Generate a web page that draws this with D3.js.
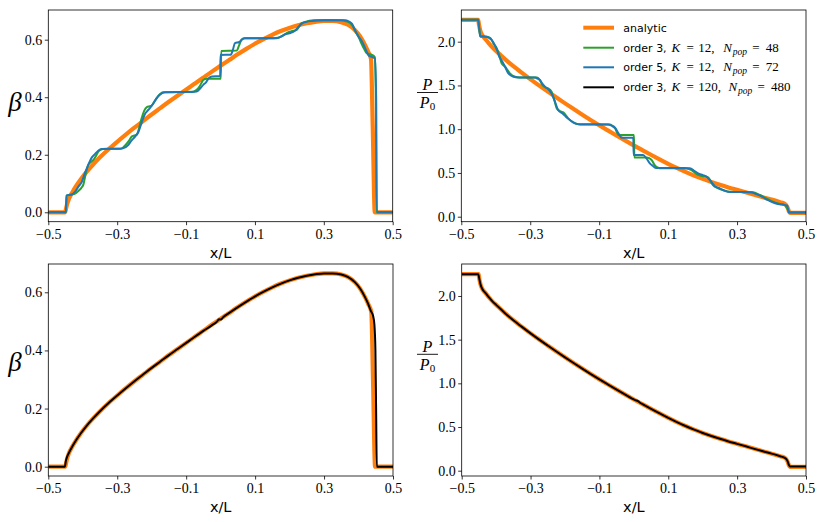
<!DOCTYPE html>
<html><head><meta charset="utf-8">
<script src="https://cdn.jsdelivr.net/npm/d3@7"></script>
<style>body{margin:0;background:#fff}svg{display:block}</style>
</head><body><svg id="c" width="822" height="522"></svg>
<script>
// ---------- data ----------
const xTicks = [-0.5, -0.3, -0.1, 0.1, 0.3, 0.5];
const betaTicks = [0, 0.2, 0.4, 0.6];
const pTicks = [0, 0.5, 1.0, 1.5, 2.0];

const analyticBeta = [[-0.5,0],[-0.451,0],[-0.448,0.015],[-0.445,0.03],[-0.44,0.047],[-0.43,0.07],[-0.42,0.09],[-0.405,0.116],[-0.39,0.139],[-0.37,0.166],[-0.35,0.191],[-0.325,0.219],[-0.3,0.245],[-0.275,0.27],[-0.25,0.294],[-0.225,0.317],[-0.2,0.34],[-0.175,0.362],[-0.15,0.384],[-0.125,0.405],[-0.1,0.426],[-0.075,0.447],[-0.05,0.468],[-0.025,0.489],[0,0.509],[0.025,0.529],[0.05,0.549],[0.075,0.568],[0.1,0.586],[0.125,0.602],[0.15,0.617],[0.175,0.63],[0.2,0.641],[0.225,0.65],[0.25,0.657],[0.275,0.662],[0.3,0.665],[0.325,0.665],[0.35,0.661],[0.37,0.652],[0.39,0.634],[0.405,0.612],[0.418,0.585],[0.428,0.56],[0.437,0.533],[0.442,0.3],[0.448,0],[0.5,0]];

const analyticP = [[-0.5,2.25],[-0.451,2.25],[-0.449,2.2],[-0.447,2.16],[-0.444,2.115],[-0.44,2.08],[-0.43,2.03],[-0.42,1.98],[-0.41,1.935],[-0.4,1.898],[-0.375,1.806],[-0.35,1.723],[-0.325,1.646],[-0.3,1.572],[-0.275,1.501],[-0.25,1.432],[-0.225,1.364],[-0.2,1.298],[-0.175,1.233],[-0.15,1.169],[-0.125,1.106],[-0.1,1.045],[-0.075,0.986],[-0.05,0.928],[-0.025,0.871],[0,0.815],[0.025,0.761],[0.05,0.708],[0.075,0.656],[0.1,0.605],[0.125,0.557],[0.15,0.512],[0.175,0.47],[0.2,0.432],[0.225,0.397],[0.25,0.365],[0.275,0.335],[0.3,0.307],[0.325,0.279],[0.35,0.25],[0.375,0.222],[0.4,0.195],[0.425,0.165],[0.437,0.15],[0.443,0.13],[0.447,0.1],[0.45,0.065],[0.453,0.043],[0.5,0.043]];

const order3K12Beta = [[-0.5,0],[-0.449,0],[-0.447,0.058],[-0.44,0.06],[-0.425,0.063],[-0.412,0.075],[-0.404,0.085],[-0.398,0.097],[-0.392,0.13],[-0.384,0.165],[-0.376,0.175],[-0.369,0.182],[-0.362,0.195],[-0.355,0.211],[-0.345,0.219],[-0.34,0.22],[-0.3,0.221],[-0.287,0.222],[-0.275,0.235],[-0.265,0.25],[-0.258,0.263],[-0.25,0.267],[-0.243,0.27],[-0.236,0.295],[-0.229,0.327],[-0.222,0.352],[-0.214,0.366],[-0.205,0.369],[-0.2,0.371],[-0.192,0.385],[-0.185,0.397],[-0.176,0.41],[-0.166,0.417],[-0.12,0.418],[-0.079,0.419],[-0.07,0.425],[-0.061,0.437],[-0.055,0.45],[-0.05,0.46],[-0.04,0.464],[0.001,0.464],[0.002,0.561],[0.047,0.562],[0.054,0.58],[0.061,0.6],[0.068,0.605],[0.158,0.605],[0.168,0.607],[0.178,0.612],[0.192,0.623],[0.205,0.629],[0.221,0.634],[0.228,0.645],[0.234,0.656],[0.245,0.662],[0.255,0.665],[0.27,0.668],[0.352,0.668],[0.365,0.664],[0.377,0.657],[0.385,0.645],[0.391,0.63],[0.401,0.61],[0.408,0.59],[0.416,0.57],[0.425,0.552],[0.44,0.547],[0.448,0.54],[0.451,0.4],[0.453,0],[0.5,0]];

const order5K12Beta = [[-0.5,0],[-0.449,0],[-0.447,0.058],[-0.442,0.06],[-0.432,0.062],[-0.422,0.072],[-0.412,0.09],[-0.403,0.105],[-0.394,0.135],[-0.384,0.165],[-0.374,0.19],[-0.364,0.203],[-0.355,0.214],[-0.345,0.22],[-0.32,0.221],[-0.295,0.221],[-0.282,0.223],[-0.268,0.234],[-0.258,0.25],[-0.248,0.263],[-0.238,0.28],[-0.228,0.315],[-0.22,0.34],[-0.214,0.35],[-0.205,0.362],[-0.195,0.378],[-0.185,0.398],[-0.175,0.41],[-0.161,0.417],[-0.13,0.418],[-0.1,0.418],[-0.069,0.42],[-0.058,0.432],[-0.05,0.443],[-0.042,0.452],[-0.035,0.465],[-0.025,0.472],[-0.001,0.473],[0.0,0.547],[0.03,0.548],[0.036,0.565],[0.042,0.588],[0.055,0.592],[0.062,0.6],[0.071,0.605],[0.1,0.605],[0.14,0.605],[0.168,0.607],[0.178,0.612],[0.187,0.618],[0.2,0.622],[0.217,0.632],[0.227,0.645],[0.236,0.656],[0.25,0.662],[0.265,0.665],[0.3,0.668],[0.362,0.668],[0.372,0.664],[0.382,0.655],[0.391,0.632],[0.401,0.61],[0.408,0.6],[0.416,0.582],[0.424,0.56],[0.43,0.545],[0.44,0.54],[0.448,0.535],[0.452,0.4],[0.454,0],[0.5,0]];

const order3K12P = [[-0.5,2.25],[-0.451,2.25],[-0.448,2.15],[-0.445,2.06],[-0.426,2.057],[-0.415,2.04],[-0.407,1.98],[-0.397,1.924],[-0.39,1.85],[-0.383,1.752],[-0.373,1.714],[-0.359,1.638],[-0.344,1.6],[-0.33,1.592],[-0.28,1.59],[-0.272,1.56],[-0.265,1.505],[-0.255,1.475],[-0.248,1.467],[-0.238,1.429],[-0.23,1.33],[-0.223,1.238],[-0.214,1.208],[-0.204,1.192],[-0.19,1.124],[-0.175,1.078],[-0.16,1.057],[-0.069,1.055],[-0.061,1.035],[-0.054,1.01],[-0.048,0.96],[-0.044,0.933],[0.001,0.933],[0.002,0.678],[0.037,0.678],[0.045,0.67],[0.052,0.648],[0.061,0.59],[0.071,0.56],[0.08,0.553],[0.153,0.552],[0.168,0.533],[0.182,0.488],[0.197,0.465],[0.216,0.45],[0.23,0.362],[0.245,0.324],[0.259,0.305],[0.279,0.286],[0.346,0.28],[0.366,0.248],[0.385,0.21],[0.404,0.171],[0.424,0.145],[0.438,0.133],[0.448,0.076],[0.453,0.048],[0.5,0.048]];

const order5K12P = [[-0.5,2.25],[-0.451,2.25],[-0.448,2.15],[-0.445,2.06],[-0.426,2.057],[-0.418,2.04],[-0.412,2.02],[-0.402,1.954],[-0.396,1.9],[-0.39,1.83],[-0.382,1.78],[-0.373,1.714],[-0.364,1.64],[-0.349,1.6],[-0.335,1.592],[-0.286,1.59],[-0.279,1.578],[-0.272,1.562],[-0.265,1.52],[-0.257,1.486],[-0.243,1.436],[-0.236,1.39],[-0.23,1.333],[-0.219,1.219],[-0.207,1.181],[-0.196,1.14],[-0.185,1.105],[-0.17,1.067],[-0.155,1.055],[-0.074,1.054],[-0.064,1.04],[-0.054,1.017],[-0.044,0.952],[-0.035,0.903],[-0.001,0.902],[0.0,0.705],[0.0275,0.704],[0.037,0.667],[0.047,0.61],[0.055,0.583],[0.066,0.556],[0.163,0.555],[0.177,0.522],[0.187,0.495],[0.201,0.476],[0.212,0.455],[0.221,0.419],[0.235,0.35],[0.25,0.324],[0.264,0.297],[0.279,0.282],[0.34,0.28],[0.355,0.26],[0.37,0.236],[0.385,0.198],[0.4,0.171],[0.419,0.145],[0.438,0.133],[0.446,0.125],[0.45,0.048],[0.5,0.048]];

const order3K120Beta = [[-0.5,0],[-0.452,0],[-0.449,0.02],[-0.446,0.032],[-0.44,0.048],[-0.43,0.07],[-0.42,0.09],[-0.405,0.116],[-0.39,0.139],[-0.37,0.166],[-0.35,0.191],[-0.325,0.219],[-0.3,0.245],[-0.275,0.27],[-0.25,0.294],[-0.225,0.317],[-0.2,0.34],[-0.175,0.362],[-0.15,0.384],[-0.125,0.405],[-0.1,0.426],[-0.075,0.447],[-0.05,0.467],[-0.025,0.487],[-0.01,0.5],[-0.005,0.507],[0.0,0.506],[0.008,0.515],[0.025,0.529],[0.05,0.549],[0.075,0.568],[0.1,0.586],[0.125,0.602],[0.15,0.617],[0.175,0.63],[0.2,0.641],[0.225,0.65],[0.25,0.657],[0.275,0.662],[0.3,0.665],[0.325,0.665],[0.35,0.661],[0.37,0.652],[0.39,0.634],[0.405,0.612],[0.418,0.585],[0.428,0.56],[0.436,0.535],[0.442,0.52],[0.446,0.49],[0.449,0.4],[0.451,0.2],[0.453,0],[0.5,0]];

const order3K120P = [[-0.5,2.25],[-0.452,2.25],[-0.449,2.2],[-0.447,2.16],[-0.444,2.115],[-0.44,2.08],[-0.43,2.03],[-0.42,1.98],[-0.41,1.935],[-0.4,1.898],[-0.375,1.806],[-0.35,1.723],[-0.325,1.646],[-0.3,1.572],[-0.275,1.501],[-0.25,1.432],[-0.225,1.364],[-0.2,1.298],[-0.175,1.233],[-0.15,1.169],[-0.125,1.106],[-0.1,1.045],[-0.075,0.986],[-0.05,0.928],[-0.025,0.871],[-0.005,0.826],[0.004,0.808],[0.012,0.796],[0.018,0.778],[0.025,0.762],[0.05,0.708],[0.075,0.656],[0.1,0.605],[0.125,0.557],[0.15,0.512],[0.175,0.47],[0.2,0.432],[0.225,0.397],[0.25,0.365],[0.275,0.335],[0.3,0.307],[0.325,0.279],[0.35,0.25],[0.375,0.222],[0.4,0.195],[0.425,0.165],[0.437,0.15],[0.443,0.132],[0.447,0.105],[0.45,0.068],[0.453,0.048],[0.5,0.048]];

const legendLabels = [
  {lead:'analytic'},
  {lead:'order 3,', K:'12,', N:'48'},
  {lead:'order 5,', K:'12,', N:'72'},
  {lead:'order 3,', K:'120,', N:'480'}
];

// ---------- drawing ----------
const ORANGE='#ff7f0e', GREEN='#2ca02c', BLUE='#1f77b4', BLACK='#000000';
const svg = d3.select('#c');
const serif = "'Liberation Serif', 'Times New Roman', serif";
const sans = "'DejaVu Sans', sans-serif";
const fmt = v => (v < 0 ? '\u2212' : '') + Math.abs(v).toFixed(1);

const panels = [
  {id:'a', l:48.3, r:392.7, t:10, b:221.7, yd:[-0.0327,0.7032], yt:betaTicks, lab:'beta', labY:111,
   series:[{d:analyticBeta,c:ORANGE,w:4.2},{d:order3K12Beta,c:GREEN,w:2},{d:order5K12Beta,c:BLUE,w:2}]},
  {id:'b', l:461.3, r:806, t:10, b:221.7, yd:[-0.0571,2.3623], yt:pTicks, lab:'P', labY:92.5,
   series:[{d:analyticP,c:ORANGE,w:4.2},{d:order3K12P,c:GREEN,w:2},{d:order5K12P,c:BLUE,w:2}]},
  {id:'c', l:48.3, r:393, t:264, b:476, yd:[-0.032,0.6973], yt:betaTicks, lab:'beta', labY:371,
   series:[{d:analyticBeta,c:ORANGE,w:4.2},{d:order3K120Beta,c:BLACK,w:2}]},
  {id:'d', l:461.7, r:806, t:264, b:476, yd:[-0.0607,2.366], yt:pTicks, lab:'P', labY:354.3,
   series:[{d:analyticP,c:ORANGE,w:4.2},{d:order3K120P,c:BLACK,w:2}]}
];

const defs = svg.append('defs');
panels.forEach(p => {
  const x = d3.scaleLinear().domain([-0.5,0.5]).range([p.l,p.r]);
  const y = d3.scaleLinear().domain(p.yd).range([p.b,p.t]);
  defs.append('clipPath').attr('id','clip'+p.id).append('rect')
    .attr('x',p.l).attr('y',p.t).attr('width',p.r-p.l).attr('height',p.b-p.t);
  const g = svg.append('g');
  const line = d3.line().x(d=>x(d[0])).y(d=>y(d[1])).curve(d3.curveMonotoneX);
  const lg = g.append('g').attr('clip-path',`url(#clip${p.id})`);
  p.series.forEach(s => {
    lg.append('path').attr('d',line(s.d)).attr('fill','none')
      .attr('stroke',s.c).attr('stroke-width',s.w)
      .attr('stroke-linejoin','round').attr('stroke-linecap','butt');
  });
  const xa = g.append('g').attr('transform',`translate(0,${p.b})`)
    .call(d3.axisBottom(x).tickValues(xTicks).tickSize(3.5).tickPadding(3.5).tickFormat(fmt));
  const ya = g.append('g').attr('transform',`translate(${p.l},0)`)
    .call(d3.axisLeft(y).tickValues(p.yt).tickSize(3.5).tickPadding(2.5).tickFormat(fmt));
  [xa,ya].forEach(a => {
    a.attr('font-family',serif).attr('font-size',14);
    a.select('.domain').remove();
    a.selectAll('line').attr('stroke','#000').attr('stroke-width',0.8);
    a.selectAll('text').attr('font-family',serif).attr('font-size',14).attr('fill','#000');
  });
  g.append('rect').attr('x',p.l).attr('y',p.t).attr('width',p.r-p.l).attr('height',p.b-p.t)
    .attr('fill','none').attr('stroke','#000').attr('stroke-width',0.8);
  g.append('text').attr('x',(p.l+p.r)/2).attr('y',p.b+35.8).attr('text-anchor','middle')
    .attr('font-family',sans).attr('font-size',14.5).attr('fill','#000').text('x/L');
  if (p.lab === 'beta') {
    g.append('text').attr('x',15).attr('y',p.labY).attr('text-anchor','middle')
      .attr('font-family',serif).attr('font-style','italic').attr('font-size',27)
      .attr('fill','#000').text('\u03B2');
  } else {
    const ly = p.labY, cx = 427.5;
    g.append('text').attr('x',cx).attr('y',ly-2.5).attr('text-anchor','middle')
      .attr('font-family',serif).attr('font-style','italic').attr('font-size',16).attr('fill','#000').text('P');
    g.append('line').attr('x1',417).attr('x2',438).attr('y1',ly).attr('y2',ly)
      .attr('stroke','#000').attr('stroke-width',0.9);
    const t = g.append('text').attr('x',cx).attr('y',ly+15.5).attr('text-anchor','middle')
      .attr('font-family',serif).attr('fill','#000');
    t.append('tspan').attr('font-style','italic').attr('font-size',16).text('P');
    t.append('tspan').attr('font-size',11).attr('dy',2).text('0');
  }
});

// legend (top-right panel, no frame)
const legend = svg.append('g');
const rowsY = [27.7, 47.7, 67.3, 87.3];
const legColors = [ORANGE, GREEN, BLUE, BLACK];
const legWidths = [4, 2, 2, 2];
const nX = [0, 723.3, 723.3, 728.5];
legendLabels.forEach((lab,i) => {
  const by = rowsY[i] + 4;
  legend.append('line').attr('x1',583.3).attr('x2',614).attr('y1',rowsY[i]).attr('y2',rowsY[i])
    .attr('stroke',legColors[i]).attr('stroke-width',legWidths[i]);
  legend.append('text').attr('x',623.3).attr('y',by)
    .attr('font-family',sans).attr('font-size',11).attr('fill','#000').text(lab.lead);
  if (lab.K) {
    const m = (xx, txt, italic, size, dy) => legend.append('text').attr('x',xx).attr('y',by+(dy||0))
      .attr('font-family',serif).attr('font-style',italic?'italic':'normal')
      .attr('font-size',size||13).attr('fill','#000').text(txt);
    m(671.5,'K',true);
    m(686.5,'=',false);
    m(698.3,lab.K,false);
    const n = nX[i];
    m(n,'N',true);
    m(n+9.5,'pop',true,9.5,3);
    m(n+29,'=',false);
    m(n+42.5,lab.N,false);
  }
});
</script>
</body></html>
